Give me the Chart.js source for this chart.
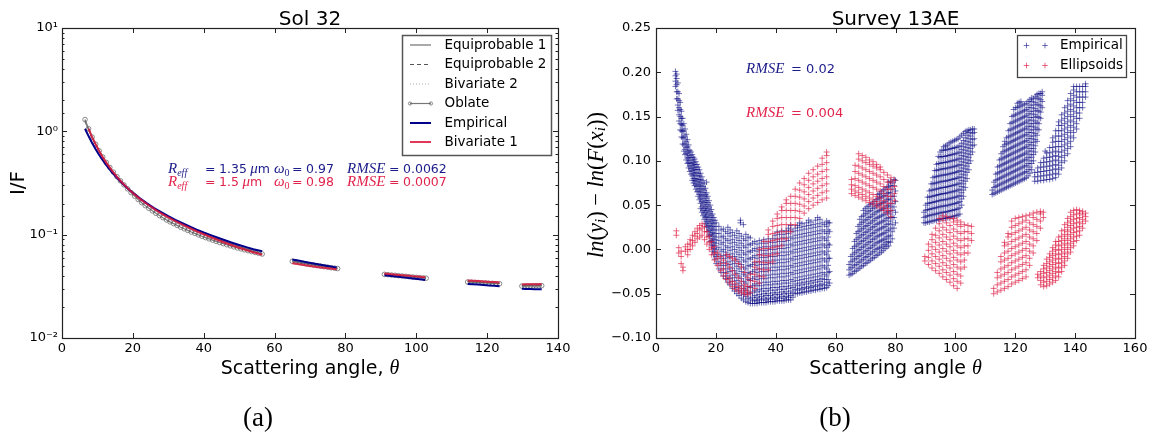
<!DOCTYPE html>
<html>
<head>
<meta charset="utf-8">
<script src="https://cdn.jsdelivr.net/npm/chart.js@4.4.1/dist/chart.umd.min.js"></script>
<style>
	html, body { margin: 0; padding: 0; background: #fff; }
	#wrap { position: relative; width: 1158px; height: 438px; overflow: hidden; }
	canvas { position: absolute; top: 0; }
	#solChart { left: 0; }
	#surveyChart { left: 575px; }
</style>
</head>
<body>
<div id="wrap">
	<canvas id="solChart" width="575" height="438"></canvas>
	<canvas id="surveyChart" width="583" height="438"></canvas>
</div>
<script>
/* -------------------------------------------------------------
 * DATA (a): Sol 32, I/F against scattering angle
 * null marks the gaps between the observation segments
 * ------------------------------------------------------------- */

const angles = [
	6.5, 7.5, 8.5, 9.5, 10.5, 11.5, 12.5, 14, 15.5, 17, 18.5, 20, 22, 24, 26, 28, 30, 32, 34, 36, 38, 40, 42, 44, 46, 48, 50, 52, 54, 56.5,
	61,
	65, 67, 69, 71, 73, 75, 77.5,
	85,
	91, 93, 95, 97, 99, 101, 102.5,
	108,
	114.5, 116, 117.5, 119, 120.5, 122, 123.5,
	127,
	129.8, 131, 132.2, 133.4, 134.6, 135.4
];

const equiprobable1 = [
	1.24, 1.03, 0.86, 0.74, 0.64, 0.560, 0.497, 0.421, 0.363, 0.318, 0.283, 0.254, 0.223, 0.199, 0.179, 0.162, 0.148, 0.136, 0.126, 0.117, 0.109, 0.102, 0.0960, 0.0904, 0.0853, 0.0807, 0.0765, 0.0727, 0.0692, 0.0655,
	null,
	0.0556, 0.0540, 0.0525, 0.0512, 0.0500, 0.0488, 0.0475,
	null,
	0.0416, 0.0410, 0.0404, 0.0398, 0.0392, 0.0386, 0.0382,
	null,
	0.0352, 0.0349, 0.0347, 0.0344, 0.0342, 0.0339, 0.0337,
	null,
	0.0321, 0.0322, 0.0322, 0.0322, 0.0323, 0.0323
];

const equiprobable2 = [
	1.27, 1.05, 0.87, 0.745, 0.643, 0.562, 0.499, 0.422, 0.364, 0.319, 0.283, 0.254, 0.223, 0.199, 0.179, 0.162, 0.148, 0.136, 0.126, 0.117, 0.109, 0.102, 0.0955, 0.0899, 0.0849, 0.0803, 0.0761, 0.0723, 0.0688, 0.0651,
	null,
	0.0550, 0.0534, 0.0520, 0.0507, 0.0495, 0.0484, 0.0471,
	null,
	0.0418, 0.0412, 0.0406, 0.0400, 0.0394, 0.0389, 0.0384,
	null,
	0.0355, 0.0352, 0.0350, 0.0347, 0.0345, 0.0342, 0.0340,
	null,
	0.0325, 0.0325, 0.0326, 0.0326, 0.0327, 0.0327
];

const bivariate2 = [
	1.22, 1.02, 0.855, 0.735, 0.637, 0.558, 0.495, 0.420, 0.362, 0.317, 0.282, 0.253, 0.222, 0.198, 0.178, 0.161, 0.147, 0.135, 0.125, 0.116, 0.108, 0.101, 0.0948, 0.0892, 0.0842, 0.0797, 0.0756, 0.0718, 0.0684, 0.0646,
	null,
	0.0545, 0.0530, 0.0516, 0.0504, 0.0493, 0.0482, 0.0469,
	null,
	0.0421, 0.0415, 0.0409, 0.0403, 0.0397, 0.0392, 0.0388,
	null,
	0.0362, 0.0359, 0.0357, 0.0354, 0.0351, 0.0349, 0.0347,
	null,
	0.0328, 0.0329, 0.0329, 0.0330, 0.0330, 0.0331
];

const empirical = [
	1.06, 0.90, 0.77, 0.67, 0.59, 0.525, 0.47, 0.405, 0.355, 0.315, 0.282, 0.255, 0.225, 0.201, 0.181, 0.165, 0.151, 0.139, 0.129, 0.120, 0.112, 0.105, 0.0990, 0.0933, 0.0882, 0.0836, 0.0794, 0.0757, 0.0722, 0.0690,
	null,
	0.0575, 0.0558, 0.0542, 0.0527, 0.0512, 0.0498, 0.0482,
	null,
	0.0405, 0.0398, 0.0391, 0.0384, 0.0377, 0.0370, 0.0364,
	null,
	0.0333, 0.0331, 0.0329, 0.0326, 0.0323, 0.0320, 0.0316,
	null,
	0.0299, 0.0298, 0.0298, 0.0297, 0.0297, 0.0297
];

const bivariate1 = [
	null, 1.06, 0.88, 0.75, 0.645, 0.563, 0.498, 0.421, 0.363, 0.318, 0.282, 0.253, 0.222, 0.198, 0.178, 0.161, 0.147, 0.135, 0.125, 0.116, 0.108, 0.101, 0.0945, 0.0888, 0.0836, 0.0790, 0.0748, 0.0710, 0.0676, 0.0640,
	null,
	0.0530, 0.0516, 0.0503, 0.0492, 0.0482, 0.0472, 0.0462,
	null,
	0.0420, 0.0414, 0.0408, 0.0402, 0.0397, 0.0391, 0.0387,
	null,
	0.0360, 0.0358, 0.0356, 0.0353, 0.0350, 0.0348, 0.0345,
	null,
	0.0330, 0.0331, 0.0331, 0.0332, 0.0332, 0.0333
];

// the oblate model is drawn with markers, so it is read at a finer step
const oblateAngles = [
	6.5, 7.5, 8.5, 9.5, 10.5, 11.5, 12.5, 13.5, 14.5, 15.5, 16.5, 17.5, 18.5, 19.5, 20.5, 21.5, 22.5, 23.5, 24.5, 25.5,
	26.5, 27.5, 28.5, 29.5, 30.5, 31.5, 32.5, 33.5, 34.5, 35.5, 36.5, 37.5, 38.5, 39.5, 40.5, 41.5, 42.5, 43.5, 44.5, 45.5,
	46.5, 47.5, 48.5, 49.5, 50.5, 51.5, 52.5, 53.5, 54.5, 55.5, 56.5,
	61,
	65, 66, 67, 68, 69, 70, 71, 72, 73, 74, 75, 76, 77, 77.8,
	85,
	91, 92, 93, 94, 95, 96, 97, 98, 99, 100, 101, 102, 102.8,
	108,
	114.5, 115.5, 116.5, 117.5, 118.5, 119.5, 120.5, 121.5, 122.5, 123.5,
	127,
	129.8, 130.6, 131.4, 132.2, 133, 133.8, 134.6, 135.4
];

const oblate = [
	1.30, 1.06, 0.88, 0.75, 0.647, 0.565, 0.50, 0.447, 0.403, 0.364, 0.332, 0.303, 0.278, 0.255, 0.236, 0.219, 0.204, 0.191, 0.180, 0.170,
	0.161, 0.153, 0.146, 0.139, 0.133, 0.128, 0.123, 0.118, 0.114, 0.110, 0.106, 0.103, 0.0995, 0.0965, 0.0937, 0.0911, 0.0886, 0.0862, 0.0840, 0.0819,
	0.0799, 0.0780, 0.0762, 0.0745, 0.0729, 0.0714, 0.0700, 0.0686, 0.0673, 0.0661, 0.0650,
	null,
	0.0552, 0.0544, 0.0536, 0.0528, 0.0521, 0.0514, 0.0508, 0.0502, 0.0496, 0.0490, 0.0485, 0.0479, 0.0474, 0.0470,
	null,
	0.0413, 0.0410, 0.0407, 0.0404, 0.0401, 0.0398, 0.0395, 0.0392, 0.0389, 0.0386, 0.0384, 0.0381, 0.0379,
	null,
	0.0348, 0.0347, 0.0345, 0.0344, 0.0342, 0.0341, 0.0339, 0.0338, 0.0336, 0.0335,
	null,
	0.0318, 0.0318, 0.0319, 0.0319, 0.0320, 0.0320, 0.0320, 0.0321
];

const solTicksX = [0, 20, 40, 60, 80, 100, 120, 140];

/* -------------------------------------------------------------
 * DATA (b): Survey 13AE residuals, columns of [angle, [residuals]]
 * ------------------------------------------------------------- */

const empBand = [
	[6.5, [0.201, 0.196, 0.190, 0.184]],
	[6.9, [0.198, 0.193, 0.186, 0.178, 0.170]],
	[7.3, [0.188, 0.178, 0.170, 0.163, 0.157]],
	[7.7, [0.176, 0.168, 0.160, 0.152, 0.145]],
	[8.1, [0.166, 0.158, 0.150, 0.142, 0.135]],
	[8.5, [0.156, 0.148, 0.141, 0.134, 0.127]],
	[8.9, [0.148, 0.140, 0.133, 0.126, 0.119]],
	[9.3, [0.142, 0.134, 0.126, 0.118, 0.111]],
	[9.7, [0.136, 0.128, 0.120, 0.113, 0.107]],
	[10.1, [0.130, 0.122, 0.115, 0.108, 0.101]],
	[10.5, [0.124, 0.116, 0.109, 0.103, 0.097]],
	[10.9, [0.118, 0.111, 0.104, 0.098, 0.092]],
	[11.3, [0.112, 0.106, 0.100, 0.094, 0.088]],
	[11.7, [0.110, 0.104, 0.097, 0.091, 0.085]],
	[12.1, [0.107, 0.101, 0.095, 0.089, 0.083, 0.078]],
	[12.5, [0.104, 0.098, 0.092, 0.086, 0.080, 0.075]],
	[12.9, [0.102, 0.096, 0.090, 0.084, 0.078, 0.072]],
	[13.3, [0.099, 0.093, 0.087, 0.080, 0.074, 0.068]],
	[13.7, [0.096, 0.090, 0.083, 0.077, 0.071, 0.065]],
	[14.1, [0.093, 0.086, 0.079, 0.073, 0.066, 0.060]],
	[14.5, [0.090, 0.083, 0.076, 0.069, 0.062, 0.056]],
	[14.9, [0.086, 0.079, 0.072, 0.065, 0.058, 0.052, 0.046]],
	[15.3, [0.082, 0.075, 0.068, 0.061, 0.054, 0.048, 0.042]],
	[15.7, [0.078, 0.071, 0.064, 0.057, 0.050, 0.044, 0.038]],
	[16.1, [0.074, 0.067, 0.060, 0.053, 0.046, 0.040, 0.034]],
	[16.5, [0.069, 0.062, 0.055, 0.048, 0.042, 0.036, 0.029]],
	[16.9, [0.076, 0.064, 0.058, 0.051, 0.044, 0.037, 0.031, 0.025]],
	[17.3, [0.060, 0.053, 0.046, 0.039, 0.032, 0.026, 0.020]],
	[17.7, [0.055, 0.048, 0.041, 0.034, 0.027, 0.021, 0.015]],
	[18.1, [0.050, 0.043, 0.036, 0.029, 0.022, 0.016, 0.009]],
	[18.5, [0.045, 0.038, 0.031, 0.024, 0.017, 0.010, 0.004]],
	[18.9, [0.040, 0.033, 0.026, 0.019, 0.012, 0.005, -0.002]],
	[19.3, [0.036, 0.029, 0.022, 0.015, 0.008, 0.001, -0.006]],
	[19.7, [0.033, 0.026, 0.018, 0.011, 0.004, -0.003, -0.011]],
	[20.1, [0.030, 0.022, 0.014, 0.007, 0.000, -0.008, -0.016]]
];

const empBlob = [
	[21, [-0.022, -0.014, -0.006, 0.002, 0.010, 0.018, 0.026]],
	[22.5, [-0.030, -0.022, -0.015, -0.007, 0.000, 0.008, 0.015, 0.023]],
	[24, [-0.037, -0.030, -0.022, -0.014, -0.006, 0.002, 0.010, 0.018, 0.025]],
	[25.5, [-0.044, -0.036, -0.029, -0.021, -0.013, -0.005, 0.003, 0.011, 0.019]],
	[27, [-0.050, -0.043, -0.035, -0.027, -0.019, -0.011, -0.003, 0.005, 0.013, 0.021]],
	[28.2, [0.033, 0.030]],
	[28.5, [-0.055, -0.048, -0.041, -0.033, -0.025, -0.017, -0.009, -0.001, 0.007, 0.015]],
	[29.2, [0.028]],
	[30, [-0.059, -0.053, -0.046, -0.038, -0.030, -0.022, -0.014, -0.006, 0.002, 0.010, 0.017]],
	[31.5, [-0.061, -0.056, -0.050, -0.043, -0.035, -0.027, -0.019, -0.011, -0.003, 0.005, 0.013]],
	[33, [-0.061, -0.057, -0.052, -0.046, -0.039, -0.031, -0.023, -0.015, -0.007, 0.001, 0.009]],
	[34.5, [-0.060, -0.056, -0.051, -0.045, -0.038, -0.030, -0.022, -0.014, -0.006, 0.002, 0.010]],
	[36, [-0.060, -0.055, -0.050, -0.044, -0.037, -0.029, -0.021, -0.013, -0.005, 0.003, 0.011]],
	[37.5, [-0.059, -0.055, -0.050, -0.044, -0.037, -0.029, -0.021, -0.013, -0.005, 0.003, 0.012]],
	[39, [-0.059, -0.054, -0.049, -0.043, -0.036, -0.028, -0.020, -0.012, -0.004, 0.004, 0.012]],
	[40.5, [-0.058, -0.054, -0.049, -0.043, -0.036, -0.028, -0.020, -0.012, -0.004, 0.004, 0.012, 0.020]],
	[42, [-0.058, -0.053, -0.048, -0.042, -0.035, -0.027, -0.019, -0.011, -0.003, 0.005, 0.013, 0.021]],
	[43.5, [-0.057, -0.053, -0.048, -0.042, -0.035, -0.027, -0.019, -0.011, -0.003, 0.005, 0.013, 0.021]],
	[45, [-0.057, -0.052, -0.047, -0.041, -0.034, -0.026, -0.018, -0.010, -0.002, 0.006, 0.014, 0.022, 0.027]],
	[46.5, [-0.050, -0.045, -0.039, -0.032, -0.024, -0.016, -0.008, 0.000, 0.008, 0.016, 0.024]],
	[48, [-0.049, -0.044, -0.038, -0.031, -0.023, -0.015, -0.007, 0.001, 0.009, 0.017, 0.025, 0.030]],
	[49.5, [-0.048, -0.043, -0.037, -0.030, -0.022, -0.014, -0.006, 0.002, 0.010, 0.018, 0.026]],
	[51, [-0.047, -0.042, -0.036, -0.029, -0.021, -0.013, -0.005, 0.003, 0.011, 0.019, 0.027, 0.033]],
	[52.5, [-0.046, -0.041, -0.035, -0.028, -0.020, -0.012, -0.004, 0.004, 0.012, 0.020, 0.028]],
	[54, [-0.045, -0.040, -0.034, -0.027, -0.019, -0.011, -0.003, 0.005, 0.013, 0.021, 0.029, 0.036]],
	[55.5, [-0.044, -0.039, -0.033, -0.026, -0.018, -0.010, -0.002, 0.006, 0.014, 0.022, 0.030]],
	[57, [-0.043, -0.037, -0.030, -0.022, -0.014, -0.006, 0.002, 0.010, 0.018, 0.026, 0.032]],
	[58, [-0.038, -0.025, -0.010, 0.005, 0.020, 0.030]]
];

// second, staggered set of scan columns in the same blob
const empBlobB = [
	[21.75, [-0.026, -0.018, -0.010, -0.002, 0.006, 0.014, 0.022]],
	[23.25, [-0.033, -0.026, -0.018, -0.010, -0.003, 0.004, 0.012, 0.020]],
	[24.75, [-0.040, -0.033, -0.025, -0.017, -0.009, -0.001, 0.007, 0.015, 0.022]],
	[26.25, [-0.047, -0.040, -0.032, -0.024, -0.016, -0.008, 0.000, 0.008, 0.016]],
	[27.75, [-0.052, -0.046, -0.038, -0.030, -0.022, -0.014, -0.006, 0.002, 0.010, 0.018]],
	[29.25, [-0.057, -0.051, -0.044, -0.036, -0.028, -0.020, -0.012, -0.004, 0.004, 0.012]],
	[30.75, [-0.060, -0.055, -0.049, -0.042, -0.034, -0.026, -0.018, -0.010, -0.002, 0.006, 0.014]],
	[32.25, [-0.061, -0.058, -0.054, -0.048, -0.041, -0.033, -0.025, -0.017, -0.009, -0.001, 0.007]],
	[33.75, [-0.061, -0.058, -0.054, -0.048, -0.041, -0.034, -0.026, -0.018, -0.010, -0.002, 0.006]],
	[35.25, [-0.060, -0.057, -0.053, -0.047, -0.041, -0.033, -0.025, -0.017, -0.009, -0.001, 0.007]],
	[36.75, [-0.060, -0.057, -0.052, -0.047, -0.040, -0.033, -0.025, -0.017, -0.009, -0.001, 0.007]],
	[38.25, [-0.059, -0.056, -0.052, -0.046, -0.040, -0.032, -0.024, -0.016, -0.008, 0.000, 0.008]],
	[39.75, [-0.059, -0.056, -0.051, -0.046, -0.039, -0.032, -0.024, -0.016, -0.008, 0.000, 0.008, 0.016]],
	[41.25, [-0.058, -0.055, -0.051, -0.045, -0.039, -0.031, -0.023, -0.015, -0.007, 0.001, 0.009, 0.017]],
	[42.75, [-0.058, -0.055, -0.050, -0.045, -0.038, -0.031, -0.023, -0.015, -0.007, 0.001, 0.009, 0.017]],
	[44.25, [-0.057, -0.054, -0.050, -0.044, -0.038, -0.030, -0.022, -0.014, -0.006, 0.002, 0.010, 0.018, 0.024]],
	[45.75, [-0.054, -0.049, -0.043, -0.036, -0.028, -0.020, -0.012, -0.004, 0.004, 0.012, 0.020]],
	[47.25, [-0.050, -0.046, -0.041, -0.035, -0.027, -0.019, -0.011, -0.003, 0.005, 0.013, 0.021, 0.027]],
	[48.75, [-0.049, -0.045, -0.040, -0.034, -0.026, -0.018, -0.010, -0.002, 0.006, 0.014, 0.022, 0.029]],
	[50.25, [-0.048, -0.044, -0.039, -0.033, -0.025, -0.017, -0.009, -0.001, 0.007, 0.015, 0.023, 0.030]],
	[51.75, [-0.047, -0.043, -0.038, -0.032, -0.024, -0.016, -0.008, 0.000, 0.008, 0.016, 0.024, 0.031]],
	[53.25, [-0.046, -0.042, -0.037, -0.031, -0.023, -0.015, -0.007, 0.001, 0.009, 0.017, 0.025, 0.033]],
	[54.75, [-0.045, -0.041, -0.036, -0.030, -0.022, -0.014, -0.006, 0.002, 0.010, 0.018, 0.026, 0.034]],
	[56.25, [-0.044, -0.040, -0.034, -0.028, -0.020, -0.012, -0.004, 0.004, 0.012, 0.020, 0.028]],
	[57.5, [-0.041, -0.034, -0.026, -0.018, -0.010, -0.002, 0.006, 0.014, 0.022, 0.030]]
];

const empSeg2 = [
	[64.5, [-0.029, -0.023, -0.017]],
	[65.1, [-0.028, -0.021, -0.014, -0.008]],
	[65.7, [-0.027, -0.020, -0.013, -0.006, 0.001]],
	[66.3, [-0.025, -0.018, -0.011, -0.004, 0.003, 0.009]],
	[66.9, [-0.024, -0.017, -0.010, -0.003, 0.004, 0.011, 0.018]],
	[67.5, [-0.022, -0.015, -0.008, -0.001, 0.006, 0.013, 0.020, 0.026]],
	[68.1, [-0.021, -0.014, -0.007, 0.000, 0.007, 0.014, 0.021, 0.028, 0.034]],
	[68.7, [-0.019, -0.012, -0.005, 0.002, 0.009, 0.016, 0.023, 0.030, 0.037]],
	[69.3, [-0.018, -0.011, -0.004, 0.003, 0.010, 0.017, 0.024, 0.031, 0.038, 0.044]],
	[69.9, [-0.016, -0.009, -0.002, 0.005, 0.012, 0.019, 0.026, 0.033, 0.040, 0.046]],
	[70.5, [-0.015, -0.008, -0.001, 0.006, 0.013, 0.020, 0.027, 0.034, 0.041, 0.048]],
	[71.1, [-0.013, -0.006, 0.001, 0.008, 0.015, 0.022, 0.029, 0.036, 0.043, 0.049]],
	[71.7, [-0.012, -0.005, 0.002, 0.009, 0.016, 0.023, 0.030, 0.037, 0.044, 0.051]],
	[72.3, [-0.010, -0.003, 0.004, 0.011, 0.018, 0.025, 0.032, 0.039, 0.046, 0.052]],
	[72.9, [-0.009, -0.002, 0.005, 0.012, 0.019, 0.026, 0.033, 0.040, 0.047, 0.054]],
	[73.5, [-0.007, 0.000, 0.007, 0.014, 0.021, 0.028, 0.035, 0.042, 0.049, 0.056]],
	[74.1, [-0.006, 0.001, 0.008, 0.015, 0.022, 0.029, 0.036, 0.043, 0.050, 0.057, 0.062]],
	[74.7, [-0.004, 0.002, 0.009, 0.016, 0.023, 0.030, 0.037, 0.044, 0.051, 0.058, 0.063]],
	[75.3, [-0.003, 0.003, 0.010, 0.017, 0.024, 0.031, 0.038, 0.045, 0.052, 0.059, 0.065]],
	[75.9, [-0.001, 0.005, 0.011, 0.018, 0.025, 0.032, 0.039, 0.046, 0.053, 0.060, 0.067]],
	[76.5, [0.001, 0.006, 0.012, 0.019, 0.026, 0.033, 0.040, 0.047, 0.054, 0.061, 0.068]],
	[77.1, [0.003, 0.008, 0.014, 0.021, 0.028, 0.035, 0.042, 0.049, 0.056, 0.063, 0.070]],
	[77.7, [0.004, 0.009, 0.015, 0.022, 0.029, 0.036, 0.043, 0.050, 0.057, 0.064, 0.071, 0.076]],
	[78.3, [0.008, 0.016, 0.024, 0.032, 0.040, 0.048, 0.056, 0.064, 0.072, 0.077]],
	[78.9, [0.012, 0.020, 0.028, 0.036, 0.044, 0.052, 0.060, 0.068, 0.075]],
	[79.5, [0.024, 0.036, 0.048, 0.060, 0.072, 0.079]],
	[80, [0.030, 0.042, 0.054, 0.066, 0.078]]
];

const empSeg3 = [
	[89.5, [0.030, 0.036, 0.042]],
	[90.1, [0.030, 0.037, 0.044, 0.050]],
	[90.7, [0.031, 0.038, 0.045, 0.052, 0.059]],
	[91.3, [0.031, 0.038, 0.045, 0.052, 0.059, 0.066]],
	[91.9, [0.032, 0.039, 0.046, 0.053, 0.060, 0.067, 0.074]],
	[92.5, [0.032, 0.039, 0.046, 0.053, 0.060, 0.067, 0.074, 0.081]],
	[93.1, [0.033, 0.040, 0.047, 0.054, 0.061, 0.068, 0.075, 0.082, 0.089]],
	[93.7, [0.033, 0.040, 0.047, 0.054, 0.061, 0.068, 0.075, 0.082, 0.089, 0.096]],
	[94.3, [0.034, 0.041, 0.048, 0.055, 0.062, 0.069, 0.076, 0.083, 0.090, 0.097, 0.105]],
	[94.9, [0.034, 0.041, 0.048, 0.055, 0.062, 0.069, 0.076, 0.083, 0.090, 0.097, 0.104, 0.110]],
	[95.5, [0.035, 0.042, 0.049, 0.056, 0.063, 0.070, 0.077, 0.084, 0.091, 0.098, 0.105, 0.112]],
	[96.1, [0.035, 0.042, 0.049, 0.056, 0.063, 0.070, 0.077, 0.084, 0.091, 0.098, 0.105, 0.112, 0.116]],
	[96.7, [0.035, 0.042, 0.049, 0.056, 0.063, 0.070, 0.077, 0.084, 0.091, 0.098, 0.105, 0.112, 0.117]],
	[97.3, [0.036, 0.043, 0.050, 0.057, 0.064, 0.071, 0.078, 0.085, 0.092, 0.099, 0.106, 0.113, 0.118]],
	[97.9, [0.036, 0.043, 0.050, 0.057, 0.064, 0.071, 0.078, 0.085, 0.092, 0.099, 0.106, 0.113, 0.120]],
	[98.5, [0.037, 0.044, 0.051, 0.058, 0.065, 0.072, 0.079, 0.086, 0.093, 0.100, 0.107, 0.114, 0.121]],
	[99.1, [0.037, 0.044, 0.051, 0.058, 0.065, 0.072, 0.079, 0.086, 0.093, 0.100, 0.107, 0.114, 0.122]],
	[99.7, [0.038, 0.045, 0.052, 0.059, 0.066, 0.073, 0.080, 0.087, 0.094, 0.101, 0.108, 0.115, 0.123]],
	[100.3, [0.038, 0.045, 0.052, 0.059, 0.066, 0.073, 0.080, 0.087, 0.094, 0.101, 0.108, 0.115, 0.124]],
	[100.9, [0.039, 0.046, 0.053, 0.060, 0.067, 0.074, 0.081, 0.088, 0.095, 0.102, 0.109, 0.116, 0.125]],
	[101.5, [0.040, 0.047, 0.054, 0.061, 0.068, 0.075, 0.082, 0.089, 0.096, 0.103, 0.110, 0.117, 0.127]],
	[102.1, [0.050, 0.057, 0.064, 0.071, 0.078, 0.085, 0.092, 0.099, 0.106, 0.113, 0.120, 0.129]],
	[102.7, [0.060, 0.067, 0.074, 0.081, 0.088, 0.095, 0.102, 0.109, 0.116, 0.123, 0.131]],
	[103.3, [0.070, 0.077, 0.084, 0.091, 0.098, 0.105, 0.112, 0.119, 0.126, 0.133]],
	[103.9, [0.080, 0.087, 0.094, 0.101, 0.108, 0.115, 0.122, 0.129, 0.134]],
	[104.5, [0.090, 0.097, 0.104, 0.111, 0.118, 0.125, 0.132, 0.135]],
	[105.1, [0.100, 0.107, 0.114, 0.121, 0.128, 0.135]],
	[105.7, [0.110, 0.117, 0.124, 0.131, 0.136]],
	[106.3, [0.118, 0.125, 0.132, 0.136]]
];

const empSeg4 = [
	[112.3, [0.062, 0.067]],
	[112.9, [0.063, 0.070, 0.076]],
	[113.5, [0.064, 0.071, 0.078, 0.085]],
	[114.1, [0.065, 0.072, 0.079, 0.086, 0.093]],
	[114.7, [0.066, 0.073, 0.080, 0.087, 0.094, 0.101]],
	[115.3, [0.067, 0.074, 0.081, 0.088, 0.095, 0.102, 0.108]],
	[115.9, [0.068, 0.075, 0.082, 0.089, 0.096, 0.103, 0.110, 0.116]],
	[116.5, [0.069, 0.076, 0.083, 0.090, 0.097, 0.104, 0.111, 0.118, 0.122]],
	[117.1, [0.070, 0.077, 0.084, 0.091, 0.098, 0.105, 0.112, 0.119, 0.126]],
	[117.7, [0.071, 0.078, 0.085, 0.092, 0.099, 0.106, 0.113, 0.120, 0.127, 0.134]],
	[118.3, [0.072, 0.079, 0.086, 0.093, 0.100, 0.107, 0.114, 0.121, 0.128, 0.135, 0.142]],
	[118.9, [0.073, 0.080, 0.087, 0.094, 0.101, 0.108, 0.115, 0.122, 0.129, 0.136, 0.143, 0.150]],
	[119.5, [0.074, 0.081, 0.088, 0.095, 0.102, 0.109, 0.116, 0.123, 0.130, 0.137, 0.144, 0.151, 0.158]],
	[120.1, [0.075, 0.082, 0.089, 0.096, 0.103, 0.110, 0.117, 0.124, 0.131, 0.138, 0.145, 0.152, 0.160]],
	[120.7, [0.076, 0.083, 0.090, 0.097, 0.104, 0.111, 0.118, 0.125, 0.132, 0.139, 0.146, 0.153, 0.160, 0.165]],
	[121.3, [0.077, 0.084, 0.091, 0.098, 0.105, 0.112, 0.119, 0.126, 0.133, 0.140, 0.147, 0.154, 0.161, 0.166]],
	[121.9, [0.078, 0.085, 0.092, 0.099, 0.106, 0.113, 0.120, 0.127, 0.134, 0.141, 0.148, 0.155, 0.162, 0.167]],
	[122.5, [0.079, 0.086, 0.093, 0.100, 0.107, 0.114, 0.121, 0.128, 0.135, 0.142, 0.149, 0.156, 0.163]],
	[123.1, [0.080, 0.087, 0.094, 0.101, 0.108, 0.115, 0.122, 0.129, 0.136, 0.143, 0.150, 0.157, 0.164]],
	[123.7, [0.081, 0.088, 0.095, 0.102, 0.109, 0.116, 0.123, 0.130, 0.137, 0.144, 0.151, 0.158, 0.165]],
	[124.3, [0.083, 0.090, 0.097, 0.104, 0.111, 0.118, 0.125, 0.132, 0.139, 0.146, 0.153, 0.160, 0.167]],
	[124.9, [0.086, 0.093, 0.100, 0.107, 0.114, 0.121, 0.128, 0.135, 0.142, 0.149, 0.156, 0.163, 0.169]],
	[125.5, [0.090, 0.097, 0.104, 0.111, 0.118, 0.125, 0.132, 0.139, 0.146, 0.153, 0.160, 0.167, 0.171]],
	[126.1, [0.100, 0.107, 0.114, 0.121, 0.128, 0.135, 0.142, 0.149, 0.156, 0.163, 0.170]],
	[126.7, [0.110, 0.117, 0.124, 0.131, 0.138, 0.145, 0.152, 0.159, 0.166, 0.173]],
	[127.3, [0.122, 0.129, 0.136, 0.143, 0.150, 0.157, 0.164, 0.171, 0.175]],
	[127.9, [0.135, 0.142, 0.149, 0.156, 0.163, 0.170, 0.176]],
	[128.5, [0.148, 0.155, 0.162, 0.169, 0.176]],
	[129, [0.160, 0.167, 0.174, 0.178]]
];

const empSeg5 = [
	[126.5, [0.077, 0.082, 0.087]],
	[127.5, [0.077, 0.082, 0.087, 0.092]],
	[128.5, [0.078, 0.083, 0.088, 0.093, 0.098]],
	[129.5, [0.078, 0.083, 0.088, 0.093, 0.098, 0.103]],
	[130, [0.111]],
	[130.5, [0.079, 0.084, 0.089, 0.094, 0.099, 0.104, 0.109]],
	[131.5, [0.079, 0.084, 0.089, 0.094, 0.099, 0.104, 0.109, 0.115]],
	[132.5, [0.080, 0.085, 0.090, 0.095, 0.100, 0.105, 0.110, 0.115, 0.121, 0.126]],
	[133.5, [0.081, 0.086, 0.091, 0.096, 0.101, 0.106, 0.111, 0.116, 0.122, 0.128, 0.134]],
	[134.5, [0.085, 0.090, 0.095, 0.100, 0.105, 0.110, 0.116, 0.122, 0.128, 0.134, 0.140, 0.144]],
	[135.5, [0.092, 0.098, 0.104, 0.110, 0.116, 0.122, 0.128, 0.134, 0.140, 0.146, 0.152]],
	[136.5, [0.100, 0.106, 0.112, 0.118, 0.124, 0.130, 0.136, 0.142, 0.148, 0.154, 0.160]],
	[137.5, [0.108, 0.114, 0.120, 0.126, 0.132, 0.138, 0.144, 0.150, 0.156, 0.162, 0.168]],
	[138.5, [0.116, 0.122, 0.128, 0.134, 0.140, 0.146, 0.152, 0.158, 0.164, 0.170, 0.176]],
	[139.5, [0.126, 0.132, 0.138, 0.144, 0.150, 0.156, 0.162, 0.168, 0.174, 0.180, 0.184]],
	[140.5, [0.136, 0.142, 0.148, 0.154, 0.160, 0.166, 0.172, 0.178, 0.184]],
	[141.5, [0.148, 0.154, 0.160, 0.166, 0.172, 0.178, 0.184]],
	[142.5, [0.160, 0.166, 0.172, 0.178, 0.184]],
	[143.5, [0.172, 0.178, 0.184, 0.187]]
];

const ellBump = [
	[6.8, [0.021, 0.016]],
	[7.6, [0.002, -0.004]],
	[8.4, [-0.002, -0.008, -0.016]],
	[9.0, [-0.020, -0.024]],
	[9.8, [-0.002, 0.003]],
	[10.6, [0.000, 0.006, -0.006]],
	[11.4, [0.006, 0.011, 0.000]],
	[12.2, [0.010, 0.016, 0.004]],
	[13.0, [0.015, 0.020, 0.008]],
	[13.8, [0.018, 0.024, 0.012]],
	[14.6, [0.022, 0.027, 0.014]],
	[15.4, [0.024, 0.029, 0.016]],
	[16.2, [0.020, 0.026, 0.011]],
	[17.0, [0.014, 0.020, 0.006]],
	[17.8, [0.008, 0.015, 0.000]],
	[18.6, [0.002, 0.009, -0.006]],
	[19.5, [-0.004, -0.012, 0.003]],
	[20.5, [-0.010, -0.018, -0.004]],
	[21.5, [-0.016, -0.024, -0.008]],
	[22.5, [-0.022, -0.030, -0.012]],
	[23.5, [-0.027, -0.034, -0.016, -0.006]],
	[24.5, [-0.032, -0.038, -0.020, -0.008]],
	[25.5, [-0.036, -0.042, -0.024, -0.010]],
	[26.5, [-0.039, -0.045, -0.028, -0.012]],
	[27.5, [-0.042, -0.047, -0.032, -0.016]],
	[28.5, [-0.044, -0.049, -0.036, -0.020]],
	[29.5, [-0.046, -0.050, -0.040, -0.026]],
	[30.5, [-0.047, -0.051, -0.042, -0.032]]
];

const ellArm = [
	[31.5, [-0.049, -0.042, -0.035, -0.028]],
	[33, [-0.044, -0.036, -0.028, -0.020, -0.014]],
	[34.5, [-0.038, -0.030, -0.022, -0.014, -0.006, 0.000]],
	[36, [-0.031, -0.023, -0.015, -0.007, 0.001, 0.009]],
	[37.5, [-0.023, -0.015, -0.007, 0.001, 0.009, 0.017, 0.022]],
	[39, [-0.014, -0.006, 0.002, 0.010, 0.018, 0.026, 0.032]],
	[40.5, [-0.005, 0.003, 0.011, 0.019, 0.027, 0.035, 0.040]],
	[42, [0.004, 0.012, 0.020, 0.028, 0.036, 0.044, 0.048]],
	[43.5, [0.012, 0.020, 0.028, 0.036, 0.044, 0.052, 0.056]],
	[45, [0.020, 0.028, 0.036, 0.044, 0.052, 0.060]],
	[46.5, [0.028, 0.036, 0.044, 0.052, 0.060, 0.068]],
	[48, [0.035, 0.043, 0.051, 0.059, 0.067, 0.075]],
	[49.5, [0.041, 0.049, 0.057, 0.065, 0.073, 0.080]],
	[51, [0.046, 0.054, 0.062, 0.070, 0.078, 0.086]],
	[52.5, [0.050, 0.058, 0.066, 0.074, 0.082, 0.090]],
	[54, [0.053, 0.061, 0.069, 0.077, 0.085, 0.094]],
	[55.5, [0.056, 0.064, 0.072, 0.080, 0.088, 0.096, 0.103]],
	[57, [0.058, 0.066, 0.074, 0.082, 0.090, 0.098, 0.106, 0.110]]
];

const ellSeg2 = [
	[65.3, [0.063, 0.068, 0.073, 0.079]],
	[66.5, [0.061, 0.066, 0.072, 0.080, 0.088, 0.095]],
	[67.7, [0.059, 0.064, 0.070, 0.078, 0.086, 0.094, 0.102, 0.108]],
	[68.9, [0.057, 0.062, 0.068, 0.076, 0.084, 0.092, 0.100, 0.106]],
	[70.1, [0.055, 0.060, 0.066, 0.074, 0.082, 0.090, 0.098, 0.104]],
	[71.3, [0.053, 0.058, 0.064, 0.072, 0.080, 0.088, 0.096, 0.101]],
	[72.5, [0.051, 0.056, 0.062, 0.070, 0.078, 0.086, 0.094, 0.099]],
	[73.7, [0.049, 0.054, 0.060, 0.068, 0.076, 0.084, 0.092, 0.096]],
	[74.9, [0.047, 0.052, 0.058, 0.066, 0.074, 0.082, 0.090, 0.093]],
	[76.1, [0.044, 0.049, 0.055, 0.063, 0.071, 0.079, 0.087]],
	[77.3, [0.041, 0.046, 0.052, 0.060, 0.068, 0.076, 0.084]],
	[78.5, [0.037, 0.044, 0.052, 0.060, 0.068, 0.076, 0.081]],
	[79.7, [0.055, 0.063, 0.071, 0.078]]
];

const ellSeg3 = [
	[89.8, [-0.013, -0.008]],
	[91, [-0.017, -0.009, -0.001, 0.006]],
	[92.2, [-0.021, -0.013, -0.005, 0.003, 0.011, 0.017]],
	[93.4, [-0.024, -0.016, -0.008, 0.000, 0.008, 0.016, 0.024]],
	[94.6, [-0.027, -0.019, -0.011, -0.003, 0.005, 0.013, 0.021, 0.029, 0.035]],
	[95.8, [-0.031, -0.023, -0.015, -0.007, 0.001, 0.009, 0.017, 0.025, 0.033, 0.038]],
	[97, [-0.034, -0.026, -0.018, -0.010, -0.002, 0.006, 0.014, 0.022, 0.030, 0.037]],
	[98.2, [-0.037, -0.029, -0.021, -0.013, -0.005, 0.003, 0.011, 0.019, 0.027, 0.035]],
	[99.4, [-0.041, -0.033, -0.025, -0.017, -0.009, -0.001, 0.007, 0.015, 0.023, 0.031, 0.035]],
	[100.6, [-0.044, -0.036, -0.028, -0.020, -0.012, -0.004, 0.004, 0.012, 0.020, 0.028, 0.033]],
	[101.8, [-0.038, -0.030, -0.022, -0.014, -0.006, 0.002, 0.010, 0.018, 0.026, 0.031]],
	[103, [-0.020, -0.012, -0.004, 0.004, 0.012, 0.020, 0.028]],
	[104.2, [-0.004, 0.004, 0.012, 0.020, 0.027]],
	[105.4, [0.010, 0.018, 0.026]]
];

const ellSeg4 = [
	[112.8, [-0.050, -0.044]],
	[114, [-0.048, -0.040, -0.032, -0.026]],
	[115.2, [-0.046, -0.038, -0.030, -0.022, -0.014, -0.008]],
	[116.4, [-0.044, -0.036, -0.028, -0.020, -0.012, -0.004, 0.004, 0.008]],
	[117.6, [-0.042, -0.034, -0.026, -0.018, -0.010, -0.002, 0.006, 0.014, 0.018]],
	[118.8, [-0.039, -0.031, -0.023, -0.015, -0.007, 0.001, 0.009, 0.017, 0.025, 0.032]],
	[120, [-0.037, -0.029, -0.021, -0.013, -0.005, 0.003, 0.011, 0.019, 0.027, 0.035]],
	[121.2, [-0.035, -0.027, -0.019, -0.011, -0.003, 0.005, 0.013, 0.021, 0.029, 0.036]],
	[122.4, [-0.033, -0.025, -0.017, -0.009, -0.001, 0.007, 0.015, 0.023, 0.031, 0.037]],
	[123.6, [-0.031, -0.023, -0.015, -0.007, 0.001, 0.009, 0.017, 0.025, 0.033, 0.038]],
	[124.8, [-0.018, -0.010, -0.002, 0.006, 0.014, 0.022, 0.030, 0.039]],
	[126, [-0.004, 0.004, 0.012, 0.020, 0.028, 0.036, 0.041]],
	[127.2, [0.010, 0.018, 0.026, 0.034, 0.042]],
	[128.4, [0.024, 0.032, 0.040, 0.043]],
	[129.4, [0.036, 0.042]]
];

const ellSeg5 = [
	[127.5, [-0.032, -0.028]],
	[128.5, [-0.040, -0.035, -0.030, -0.025]],
	[129.5, [-0.042, -0.037, -0.032, -0.027, -0.022, -0.018]],
	[130.5, [-0.041, -0.036, -0.031, -0.026, -0.021, -0.016, -0.011]],
	[131.5, [-0.039, -0.034, -0.029, -0.024, -0.019, -0.014, -0.009, -0.005]],
	[132.5, [-0.037, -0.032, -0.027, -0.022, -0.017, -0.012, -0.007, -0.002, 0.002]],
	[133.5, [-0.035, -0.030, -0.025, -0.020, -0.015, -0.010, -0.005, 0.000, 0.005, 0.009]],
	[134.5, [-0.031, -0.026, -0.021, -0.016, -0.011, -0.006, -0.001, 0.004, 0.009, 0.014]],
	[135.5, [-0.025, -0.020, -0.015, -0.010, -0.005, 0.000, 0.005, 0.010, 0.015, 0.021]],
	[136.5, [-0.018, -0.013, -0.008, -0.003, 0.002, 0.007, 0.012, 0.017, 0.022, 0.028]],
	[137.5, [-0.010, -0.005, 0.000, 0.005, 0.010, 0.015, 0.020, 0.025, 0.030, 0.035]],
	[138.5, [-0.003, 0.002, 0.007, 0.012, 0.017, 0.022, 0.027, 0.032, 0.037, 0.042]],
	[139.5, [0.004, 0.009, 0.014, 0.019, 0.024, 0.029, 0.034, 0.039, 0.044]],
	[140.5, [0.010, 0.015, 0.020, 0.025, 0.030, 0.035, 0.040, 0.045]],
	[141.5, [0.016, 0.021, 0.026, 0.031, 0.036, 0.041, 0.044]],
	[142.5, [0.024, 0.029, 0.034, 0.039, 0.043]],
	[143.5, [0.032, 0.037, 0.041]]
];

const surveyTicksY = [-0.10, -0.05, 0.00, 0.05, 0.10, 0.15, 0.20, 0.25];

/* -------------------------------------------------------------
 * HELPERS
 * ------------------------------------------------------------- */

const SANS = '"DejaVu Sans", sans-serif';
const SERIF = '"Liberation Serif", serif';
const NAVY = '#00008b';
const CRIMSON = 'rgba(220,20,60,0.85)';
const TXT_BLUE = '#1c1c8a';
const TXT_RED = '#e0244c';

const toPoints = (xs, vals) => xs.map((a, i) => ({ x: a, y: vals[i] }));

function cloud(...groups) {
	const pts = [];
	groups.forEach(cols => cols.forEach(([x, ys]) => ys.forEach(y => pts.push({ x, y }))));
	return pts;
}

// draw a row of text runs (mixed fonts), left or centre aligned
function drawRuns(ctx, runs, x, y, align) {
	let w = 0;
	runs.forEach(r => { ctx.font = r.font; w += ctx.measureText(r.text).width + (r.gap || 0); });
	let cx = align === 'center' ? x - w / 2 : x;
	ctx.textAlign = 'left';
	runs.forEach(r => {
		cx += r.gap || 0;
		ctx.font = r.font;
		ctx.fillStyle = r.color || '#000';
		ctx.fillText(r.text, cx, y + (r.dy || 0));
		cx += ctx.measureText(r.text).width;
	});
	return cx;
}

const isPow10 = v => Math.abs(Math.log10(v) - Math.round(Math.log10(v))) < 1e-6;

// box around the plot with inward ticks on all four sides
const frameTicks = {
	id: 'frameTicks',
	afterDatasetsDraw(chart) {
		const { ctx, chartArea: a, scales } = chart;
		ctx.save();
		ctx.strokeStyle = '#222';
		ctx.lineWidth = 1;
		ctx.beginPath();
		scales.x.ticks.forEach(t => {
			const p = Math.round(scales.x.getPixelForValue(t.value)) + 0.5;
			ctx.moveTo(p, a.bottom); ctx.lineTo(p, a.bottom - 5);
			ctx.moveTo(p, a.top); ctx.lineTo(p, a.top + 5);
		});
		scales.y.ticks.forEach(t => {
			const len = scales.y.type === 'logarithmic' && !isPow10(t.value) ? 2.5 : 5;
			const p = Math.round(scales.y.getPixelForValue(t.value)) + 0.5;
			ctx.moveTo(a.left, p); ctx.lineTo(a.left + len, p);
			ctx.moveTo(a.right, p); ctx.lineTo(a.right - len, p);
		});
		ctx.stroke();
		ctx.lineWidth = 1.2;
		ctx.strokeRect(Math.round(a.left) + 0.5, Math.round(a.top) + 0.5, Math.round(a.width), Math.round(a.height));
		ctx.restore();
	}
};

function rotatedText(ctx, text, font, x, y) {
	ctx.save();
	ctx.translate(x, y);
	ctx.rotate(-Math.PI / 2);
	ctx.font = font;
	ctx.fillStyle = '#000';
	ctx.textAlign = 'center';
	ctx.textBaseline = 'middle';
	ctx.fillText(text, 0, 0);
	ctx.restore();
}

/* -------------------------------------------------------------
 * CHART (a)
 * ------------------------------------------------------------- */

const solText = {
	id: 'solText',
	afterDraw(chart) {
		const { ctx, chartArea: a } = chart;
		const cx = (a.left + a.right) / 2;
		ctx.save();
		ctx.textBaseline = 'alphabetic';
		drawRuns(ctx, [{ text: 'Sol 32', font: `20px ${SANS}` }], cx, 25, 'center');
		drawRuns(ctx, [
			{ text: 'Scattering angle, ', font: `19px ${SANS}` },
			{ text: 'θ', font: `italic 20px ${SERIF}` }
		], cx, 374, 'center');
		rotatedText(ctx, 'I/F', `20px ${SANS}`, 19, 183);
		drawRuns(ctx, [{ text: '(a)', font: `27px ${SERIF}` }], 258, 426, 'center');

		// fit parameters
		const it = `italic 15px ${SERIF}`, sub = `italic 10px ${SERIF}`, num = `12.5px ${SANS}`;
		const rows = [
			{ y: 173, c: TXT_BLUE, r: '1.35', w: '0.97', e: '0.0062' },
			{ y: 186, c: TXT_RED, r: '1.5', w: '0.98', e: '0.0007' }
		];
		rows.forEach(row => {
			const c = row.c;
			drawRuns(ctx, [{ text: 'R', font: it, color: c }, { text: 'eff', font: sub, color: c, dy: 3 }], 168, row.y);
			drawRuns(ctx, [{ text: '=', font: num, color: c }], 205, row.y);
			drawRuns(ctx, [
				{ text: row.r, font: num, color: c },
				{ text: 'μ', font: it, color: c, gap: 3.5 },
				{ text: 'm', font: num, color: c }
			], 219, row.y);
			drawRuns(ctx, [{ text: 'ω', font: it, color: c }, { text: '0', font: `10px ${SERIF}`, color: c, dy: 3 }], 274, row.y);
			drawRuns(ctx, [{ text: '=', font: num, color: c }], 292, row.y);
			drawRuns(ctx, [{ text: row.w, font: num, color: c }], 306, row.y);
			drawRuns(ctx, [{ text: 'RMSE', font: it, color: c }], 347, row.y);
			drawRuns(ctx, [{ text: '=', font: num, color: c }], 389, row.y);
			drawRuns(ctx, [{ text: row.e, font: num, color: c }], 403, row.y);
		});

		// legend
		ctx.fillStyle = '#fff';
		ctx.fillRect(402, 35, 149, 120);
		ctx.strokeStyle = '#555';
		ctx.lineWidth = 1.5;
		ctx.strokeRect(402.5, 35.5, 149, 120);
		const rowY = [45, 64.5, 84, 103.5, 123, 142];
		chart.data.datasets.forEach((ds, i) => {
			const y = rowY[i];
			ctx.strokeStyle = ds.borderColor;
			ctx.lineWidth = ds.borderWidth;
			ctx.setLineDash(ds.borderDash || []);
			ctx.beginPath();
			ctx.moveTo(410, y); ctx.lineTo(431, y);
			ctx.stroke();
			ctx.setLineDash([]);
			if (ds.pointRadius > 0) {
				ctx.lineWidth = 0.8;
				ctx.strokeStyle = ds.pointBorderColor;
				[410, 431].forEach(px => { ctx.beginPath(); ctx.arc(px, y, 1.6, 0, Math.PI * 2); ctx.stroke(); });
			}
			ctx.fillStyle = '#000';
			ctx.font = `13.5px ${SANS}`;
			ctx.textBaseline = 'middle';
			ctx.fillText(ds.label, 444.5, y);
		});
		ctx.restore();
	}
};

new Chart(document.getElementById('solChart'), {
	type: 'line',
	data: {
		datasets: [
			{ label: 'Equiprobable 1', data: toPoints(angles, equiprobable1), borderColor: '#555', borderWidth: 1, pointRadius: 0, order: 5 },
			{ label: 'Equiprobable 2', data: toPoints(angles, equiprobable2), borderColor: '#555', borderWidth: 1, borderDash: [4, 3], pointRadius: 0, order: 4 },
			{ label: 'Bivariate 2', data: toPoints(angles, bivariate2), borderColor: '#aaa', borderWidth: 1, borderDash: [1, 2], pointRadius: 0, order: 3 },
			{ label: 'Oblate', data: toPoints(oblateAngles, oblate), borderColor: '#777', borderWidth: 1.2, pointRadius: 2.3,
				pointBorderColor: 'rgba(95,95,95,0.9)', pointBackgroundColor: 'rgba(255,255,255,0)', pointBorderWidth: 0.8, order: 2 },
			{ label: 'Empirical', data: toPoints(angles, empirical), borderColor: NAVY, borderWidth: 2, pointRadius: 0, order: 1 },
			{ label: 'Bivariate 1', data: toPoints(angles, bivariate1), borderColor: CRIMSON, borderWidth: 2, pointRadius: 0, order: 0 }
		]
	},
	options: {
		responsive: false,
		animation: false,
		events: [],
		spanGaps: false,
		layout: { padding: { left: 0, right: 17, top: 28, bottom: 0 } },
		plugins: { legend: { display: false }, tooltip: { enabled: false } },
		scales: {
			x: {
				type: 'linear', min: 0, max: 140,
				afterBuildTicks: s => { s.ticks = solTicksX.map(v => ({ value: v })); },
				afterFit: s => { s.height = 100; },
				grid: { display: false, drawTicks: false },
				border: { display: false },
				ticks: { padding: 3, color: '#000', font: { family: SANS, size: 13 } }
			},
			y: {
				type: 'logarithmic', min: 0.01, max: 10,
				afterFit: s => { s.width = 62; },
				grid: { display: false, drawTicks: false },
				border: { display: false },
				ticks: {
					autoSkip: false, padding: 4, color: '#000', font: { family: SANS, size: 13 },
					callback: v => {
						if (!isPow10(v)) return '';
						const e = Math.round(Math.log10(v));
						const sup = { '-': '⁻', '0': '⁰', '1': '¹', '2': '²' };
						return '10' + String(e).split('').map(ch => sup[ch]).join('');
					}
				}
			}
		}
	},
	plugins: [frameTicks, solText]
});

/* -------------------------------------------------------------
 * CHART (b)
 * ------------------------------------------------------------- */

const surveyText = {
	id: 'surveyText',
	afterDraw(chart) {
		const { ctx, chartArea: a } = chart;
		const cx = (a.left + a.right) / 2;
		ctx.save();
		ctx.textBaseline = 'alphabetic';
		drawRuns(ctx, [{ text: 'Survey 13AE', font: `20px ${SANS}` }], cx, 25, 'center');
		drawRuns(ctx, [
			{ text: 'Scattering angle ', font: `19px ${SANS}` },
			{ text: 'θ', font: `italic 20px ${SERIF}` }
		], cx, 374, 'center');
		drawRuns(ctx, [{ text: '(b)', font: `27px ${SERIF}` }], 260, 426, 'center');

		// rotated y title with subscripts
		ctx.save();
		ctx.translate(22, 185);
		ctx.rotate(-Math.PI / 2);
		ctx.textBaseline = 'middle';
		const it = `italic 22.5px ${SERIF}`, sb = `italic 15px ${SERIF}`, rm = `22.5px ${SERIF}`;
		drawRuns(ctx, [
			{ text: 'ln', font: it }, { text: '(', font: rm }, { text: 'y', font: it }, { text: 'i', font: sb, dy: 4 },
			{ text: ')', font: rm }, { text: ' − ', font: rm }, { text: 'ln', font: it }, { text: '(', font: rm },
			{ text: 'F', font: it }, { text: '(', font: rm }, { text: 'x', font: it }, { text: 'i', font: sb, dy: 4 },
			{ text: '))', font: rm }
		], 0, 0, 'center');
		ctx.restore();

		ctx.textBaseline = 'alphabetic';
		const it2 = `italic 15px ${SERIF}`, num = `13px ${SANS}`;
		drawRuns(ctx, [{ text: 'RMSE', font: it2, color: TXT_BLUE }], 171, 73);
		drawRuns(ctx, [{ text: '= 0.02', font: num, color: TXT_BLUE }], 216, 73);
		drawRuns(ctx, [{ text: 'RMSE', font: it2, color: TXT_RED }], 171, 117);
		drawRuns(ctx, [{ text: '= 0.004', font: num, color: TXT_RED }], 216, 117);

		// legend
		ctx.fillStyle = '#fff';
		ctx.fillRect(442, 35, 110, 42);
		ctx.strokeStyle = '#444';
		ctx.lineWidth = 1.3;
		ctx.strokeRect(442.5, 35.5, 109, 42);
		const rowY = [45.5, 65.5];
		chart.data.datasets.forEach((ds, i) => {
			const y = rowY[i];
			ctx.strokeStyle = ds.borderColor;
			ctx.lineWidth = 1;
			ctx.beginPath();
			[451.5, 470].forEach(px => {
				ctx.moveTo(px - 2.8, y); ctx.lineTo(px + 2.8, y);
				ctx.moveTo(px, y - 2.8); ctx.lineTo(px, y + 2.8);
			});
			ctx.stroke();
			ctx.fillStyle = '#000';
			ctx.font = `13.5px ${SANS}`;
			ctx.textBaseline = 'middle';
			ctx.fillText(ds.label, 485, y);
		});
		ctx.restore();
	}
};

new Chart(document.getElementById('surveyChart'), {
	type: 'scatter',
	data: {
		datasets: [
			{ label: 'Empirical', data: cloud(empBand, empBlob, empBlobB, empSeg2, empSeg3, empSeg4, empSeg5),
				pointStyle: 'cross', pointRadius: 3, borderWidth: 1, borderColor: 'rgba(0,0,128,0.55)', order: 1 },
			{ label: 'Ellipsoids', data: cloud(ellBump, ellArm, ellSeg2, ellSeg3, ellSeg4, ellSeg5),
				pointStyle: 'cross', pointRadius: 3, borderWidth: 1, borderColor: 'rgba(220,20,60,0.62)', order: 0 }
		]
	},
	options: {
		responsive: false,
		animation: false,
		events: [],
		layout: { padding: { left: 0, right: 23, top: 28, bottom: 0 } },
		plugins: { legend: { display: false }, tooltip: { enabled: false } },
		scales: {
			x: {
				type: 'linear', min: 0, max: 160,
				ticks: { stepSize: 20, padding: 3, color: '#000', font: { family: SANS, size: 13 } },
				afterFit: s => { s.height = 100; },
				grid: { display: false, drawTicks: false },
				border: { display: false }
			},
			y: {
				type: 'linear', min: -0.10, max: 0.25,
				afterBuildTicks: s => { s.ticks = surveyTicksY.map(v => ({ value: v })); },
				afterFit: s => { s.width = 81; },
				grid: { display: false, drawTicks: false },
				border: { display: false },
				ticks: {
					padding: 5, color: '#000', font: { family: SANS, size: 13 },
					callback: v => (Math.abs(v) < 1e-9 ? '0.00' : v.toFixed(2).replace('-', '\u2212'))
				}
			}
		}
	},
	plugins: [frameTicks, surveyText]
});
</script>
</body>
</html>
